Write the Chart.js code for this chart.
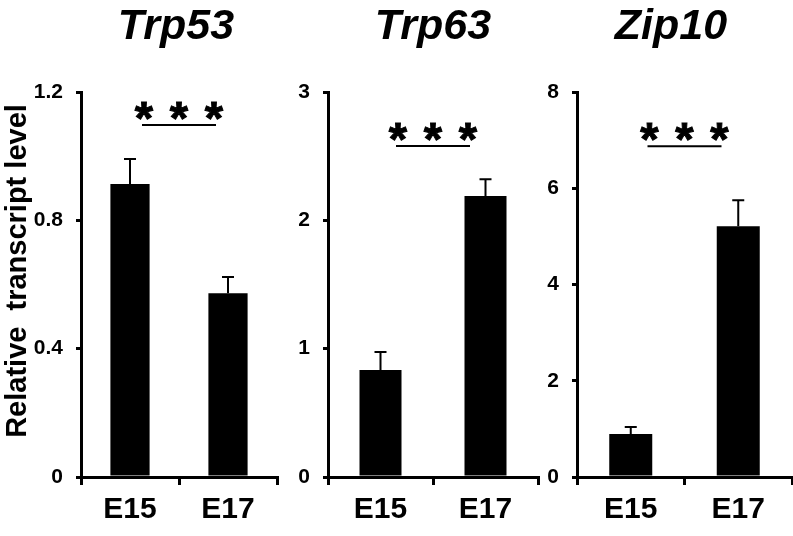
<!DOCTYPE html>
<html>
<head>
<meta charset="utf-8">
<script src="https://cdn.jsdelivr.net/npm/chart.js@4/dist/chart.umd.min.js"></script>
<style>
  body { margin: 0; background: #fff; }
  #wrap { position: relative; width: 793px; height: 536px; }
  canvas { position: absolute; top: 0; }
</style>
</head>
<body>
<div id="wrap">
  <canvas id="c0" width="290" height="536" style="left:0px"></canvas>
  <canvas id="c1" width="250" height="536" style="left:290px"></canvas>
  <canvas id="c2" width="253" height="536" style="left:540px"></canvas>
</div>
<script>
// data
const categories = ["E15", "E17"]
const genes = ["Trp53", "Trp63", "Zip10"]
const trp53Means = [0.913, 0.573]
const trp53Errors = [0.078, 0.05]
const trp63Means = [0.834, 2.19]
const trp63Errors = [0.14, 0.13]
const zip10Means = [0.896, 5.21]
const zip10Errors = [0.145, 0.54]
const yMaxes = [1.2, 3, 8]
const yStepSizes = [0.4, 1, 2]
const sigLevels = [1.097, 2.58, 6.875]
const sigLabel = "***"
const yTitle = "Relative  transcript level"

const means = [trp53Means, trp63Means, zip10Means]
const errors = [trp53Errors, trp63Errors, zip10Errors]

// layout per panel (canvas left, y axis width, right padding, title centre)
const canvasLeft = [0, 290, 540]
const axisWidth = [81, 38, 37]
const padRight = [13, 2, 1]
const titleCenter = [176, 433, 671]

const FONT = "'Liberation Sans', Arial, Helvetica, sans-serif"

function makePanel(i) {
  const ctx = document.getElementById("c" + i).getContext("2d")
  const vals = means[i], errs = errors[i]

  const marks = {
    id: "marks",
    afterDatasetsDraw(chart) {
      const c = chart.ctx, x = chart.scales.x, y = chart.scales.y
      c.save()
      c.strokeStyle = "#000"
      c.lineWidth = 2
      vals.forEach((v, j) => {
        const cx = x.getPixelForValue(j)
        const top = y.getPixelForValue(v + errs[j])
        c.beginPath()
        c.moveTo(cx, y.getPixelForValue(v))
        c.lineTo(cx, top)
        c.moveTo(cx - 6, top)
        c.lineTo(cx + 6, top)
        c.stroke()
      })
      // significance bar
      const mid = (x.getPixelForValue(0) + x.getPixelForValue(1)) / 2
      const sy = y.getPixelForValue(sigLevels[i])
      c.beginPath()
      c.moveTo(mid - 37, sy)
      c.lineTo(mid + 37, sy)
      c.stroke()
      c.fillStyle = "#000"
      c.font = "bold 47px " + FONT
      c.textAlign = "center"
      c.textBaseline = "alphabetic"
      c.lineWidth = 1
      for (let k = 0; k < sigLabel.length; k++) {
        const sx = mid + (k - 1) * 35
        c.fillText(sigLabel[k], sx, sy + 9)
        c.strokeText(sigLabel[k], sx, sy + 9)
      }
      c.restore()
    },
    afterDraw(chart) {
      const c = chart.ctx
      c.save()
      c.fillStyle = "#000"
      c.textAlign = "center"
      c.textBaseline = "alphabetic"
      c.font = "italic bold 43px " + FONT
      c.fillText(genes[i], titleCenter[i] - canvasLeft[i], 39)
      if (i === 0) {
        c.translate(26, 271)
        c.rotate(-Math.PI / 2)
        c.font = "bold 29px " + FONT
        c.fillText(yTitle, 0, 0)
      }
      c.restore()
    }
  }

  return new Chart(ctx, {
    type: "bar",
    data: {
      labels: categories,
      datasets: [{
        data: vals,
        backgroundColor: "#000",
        borderWidth: 0,
        barPercentage: 0.8,
        categoryPercentage: 0.5
      }]
    },
    plugins: [marks],
    options: {
      responsive: false,
      animation: false,
      devicePixelRatio: 1,
      layout: { padding: { top: 92, right: padRight[i], left: 0, bottom: 0 } },
      plugins: { legend: { display: false }, tooltip: { enabled: false }, title: { display: false } },
      scales: {
        x: {
          offset: true,
          border: { display: true, color: "#000", width: 3 },
          grid: { offset: true, drawOnChartArea: false, drawTicks: true, tickLength: 8, color: "#000", lineWidth: 3 },
          ticks: { color: "#000", padding: 7, font: { family: FONT, size: 30, weight: "bold" } },
          afterFit: (s) => { s.height = 59 }
        },
        y: {
          min: 0,
          max: yMaxes[i],
          border: { display: true, color: "#000", width: 3 },
          grid: { drawOnChartArea: false, drawTicks: true, tickLength: 5, color: "#000", lineWidth: 3 },
          ticks: { stepSize: yStepSizes[i], color: "#000", padding: 13, font: { family: FONT, size: 21, weight: "bold" } },
          afterFit: (s) => { s.width = axisWidth[i] }
        }
      }
    }
  })
}

genes.forEach((g, i) => makePanel(i))
</script>
</body>
</html>
